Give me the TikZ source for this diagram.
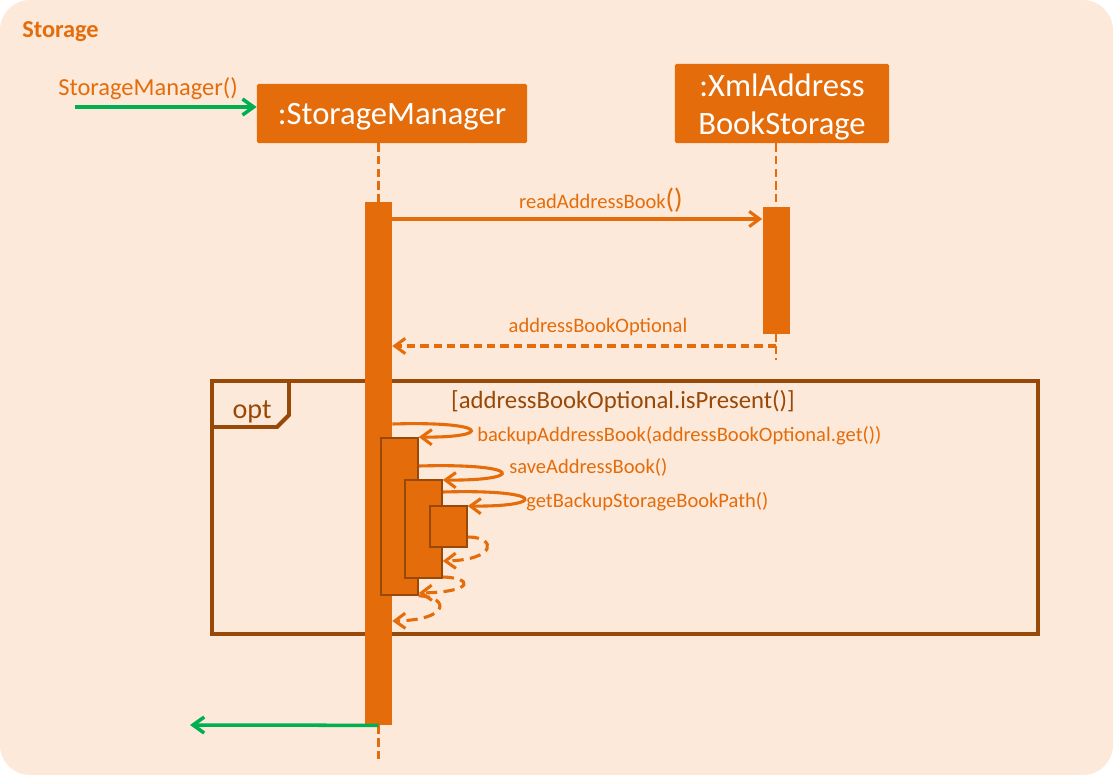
\documentclass[tikz,border=0pt]{standalone}
\usepackage{fontspec}
\setmainfont{Carlito}
\usepackage{xcolor}
\usetikzlibrary{arrows.meta,positioning,calc}

\definecolor{accent}{HTML}{E46C0A}
\definecolor{frame}{HTML}{984807}
\definecolor{paper}{HTML}{FDE9DA}
\definecolor{callgreen}{HTML}{00B050}

\begin{document}
\begin{tikzpicture}[
    x=0.025cm, y=-0.025cm,
    lifebox/.style={rectangle, fill=accent, text=white, rounded corners=1pt, align=center, inner sep=0pt, font=\fontsize{23.2}{27}\selectfont},
    actbar/.style={rectangle, fill=accent, inner sep=0pt, minimum width=0.675cm},
    subbar/.style={rectangle, fill=accent, draw=frame, line width=1.1pt, inner sep=0pt, minimum width=0.925cm},
    lifeline/.style={draw=accent, line width=2pt, dash pattern=on 6pt off 3pt},
    msg/.style={draw=accent, line width=2.2pt, -{Straight Barb[length=2.6mm,width=3.8mm]}},
    ret/.style={msg, dash pattern=on 6pt off 3.5pt},
    selfret/.style={msg, dash pattern=on 8pt off 4.5pt},
    call/.style={draw=callgreen, line width=2.5pt, -{Straight Barb[length=2.8mm,width=4mm]}},
    msglabel/.style={text=accent, inner sep=0pt, font=\fontsize{14.6}{17}\selectfont},
    guard/.style={text=frame, inner sep=0pt, font=\fontsize{17.6}{20}\selectfont}
]

% Background
\fill[paper, rounded corners=0.75cm] (0,0) rectangle (1113,775);
\node[anchor=west, text=accent, inner sep=0pt, font=\fontsize{17.3}{20}\selectfont\bfseries] (title) at (22,32) {Storage};

% opt frame
\draw[frame, line width=2.8pt] (212,381) rectangle (1038,634);
\draw[frame, line width=2.8pt] (212,427) -- (277,427) -- (289,415) -- (289,381);
\node[text=frame, inner sep=0pt, font=\fontsize{20}{22}\selectfont] (opt) at (252,412) {opt};
\node[guard] (cond) at (623,401) {[addressBookOptional.isPresent()]};

% Participants
\node[lifebox, minimum width=6.75cm, minimum height=1.475cm] (sm) at (392,113.5) {\raisebox{-2.3pt}[\height][\depth]{:StorageManager}};
\node[lifebox, minimum width=5.35cm, minimum height=1.975cm] (xml) at (782,103.5) {\raisebox{-2.2pt}[\height][\depth]{:XmlAddress}\\\raisebox{-2.2pt}[\height][\depth]{BookStorage}};

% Lifelines
\coordinate (smline) at (378.5,762);
\coordinate (xmlline) at (776,360);
\draw[lifeline] (sm.south -| smline) -- (smline);
\draw[lifeline] (xml.south -| xmlline) -- (xmlline);

% Activations
\node[actbar, minimum height=13.075cm] (smbar) at (378.5,463.5) {};
\node[actbar, minimum height=3.175cm] (xmlbar) at (776,270.5) {};
\node[subbar, minimum height=3.925cm] (backupbar) at (399.5,516.5) {};
\node[subbar, minimum height=2.45cm] (savebar) at (423.5,529) {};
\node[subbar, minimum height=1.025cm] (pathbar) at (448.5,526.5) {};

% Incoming and outgoing calls
\coordinate (start) at (75,107);
\coordinate (finish) at (190,725);
\node[msglabel, font=\fontsize{17.4}{20}\selectfont] (ctor) at (148,89) {StorageManager()};
\draw[call] (start) -- (start -| sm.west);
\draw[call] (smbar.south) -- (finish);

% Messages
\draw[msg] (smbar.east |- 0,219) -- (xmlbar.west |- 0,219);
\node[msglabel] (read) at (601,200) {readAddressBook\fontsize{20}{20}\selectfont()};
\draw[ret] (xmlline |- 0,346) -- (smbar.east |- 0,346);
\node[msglabel] (optional) at (598,327) {addressBookOptional};

% Self calls
\draw[msg] (smbar.east |- 0,424) .. controls (492,421) and (492,438) .. (backupbar.east |- 0,437);
\node[msglabel, anchor=west] (backup) at (477,436) {backupAddressBook(addressBookOptional.get())};
\draw[msg] (backupbar.east |- 0,466) .. controls (525,463) and (525,481) .. (savebar.east |- 0,480);
\node[msglabel, anchor=west] (save) at (509,467) {saveAddressBook()};
\draw[msg] (savebar.east |- 0,492) .. controls (547,489) and (547,507) .. (pathbar.east |- 0,506);
\node[msglabel, anchor=west] (path) at (526,502) {getBackupStorageBookPath()};

% Returns
\draw[selfret] (pathbar.east |- 0,537) .. controls (497,537) and (497,560) .. (savebar.east |- 0,561);
\draw[selfret] (savebar.east |- 0,577) .. controls (474,578) and (474,592) .. (backupbar.east |- 0,593);
\draw[selfret] (backupbar.south east) .. controls (450,597) and (450,620) .. (smbar.east |- 0,621);

\end{tikzpicture}
\end{document}
